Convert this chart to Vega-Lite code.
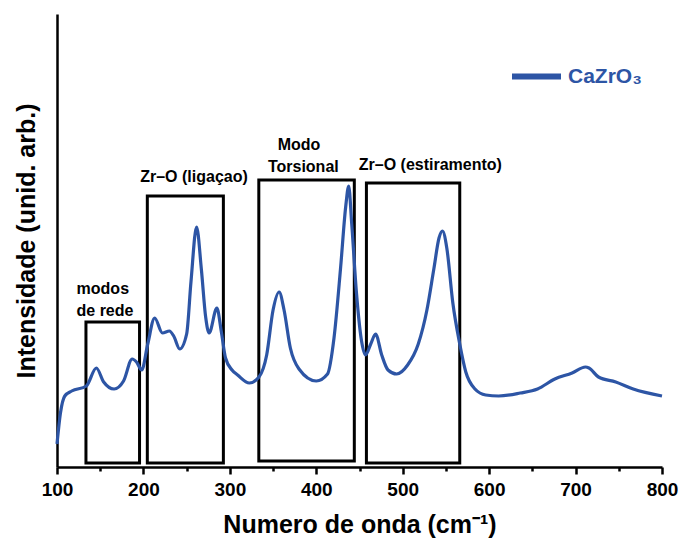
{
  "$schema": "https://vega.github.io/schema/vega-lite/v6.json",
  "width": 605,
  "height": 453,
  "autosize": {"type": "none"},
  "padding": {"left": 57, "top": 14, "right": 18, "bottom": 73},
  "config": {"view": {"stroke": null}, "font": "Liberation Sans"},
  "datasets": {
    "spectrum": [
      {"wn": 100, "I": 23, "series": "CaZrO₃"},
      {"wn": 104, "I": 54, "series": "CaZrO₃"},
      {"wn": 109, "I": 71, "series": "CaZrO₃"},
      {"wn": 117, "I": 76, "series": "CaZrO₃"},
      {"wn": 134, "I": 81, "series": "CaZrO₃"},
      {"wn": 145.5, "I": 99, "series": "CaZrO₃"},
      {"wn": 154, "I": 85, "series": "CaZrO₃"},
      {"wn": 166, "I": 78, "series": "CaZrO₃"},
      {"wn": 177, "I": 86, "series": "CaZrO₃"},
      {"wn": 187, "I": 108, "series": "CaZrO₃"},
      {"wn": 192, "I": 105, "series": "CaZrO₃"},
      {"wn": 198, "I": 97, "series": "CaZrO₃"},
      {"wn": 205, "I": 123, "series": "CaZrO₃"},
      {"wn": 213, "I": 149, "series": "CaZrO₃"},
      {"wn": 222, "I": 134, "series": "CaZrO₃"},
      {"wn": 230, "I": 136, "series": "CaZrO₃"},
      {"wn": 235, "I": 131, "series": "CaZrO₃"},
      {"wn": 242, "I": 118, "series": "CaZrO₃"},
      {"wn": 250, "I": 133, "series": "CaZrO₃"},
      {"wn": 255, "I": 185, "series": "CaZrO₃"},
      {"wn": 261.5, "I": 240, "series": "CaZrO₃"},
      {"wn": 267, "I": 198, "series": "CaZrO₃"},
      {"wn": 272, "I": 150, "series": "CaZrO₃"},
      {"wn": 276, "I": 134, "series": "CaZrO₃"},
      {"wn": 285, "I": 159, "series": "CaZrO₃"},
      {"wn": 290, "I": 136, "series": "CaZrO₃"},
      {"wn": 295, "I": 109, "series": "CaZrO₃"},
      {"wn": 302.5, "I": 97, "series": "CaZrO₃"},
      {"wn": 309, "I": 92, "series": "CaZrO₃"},
      {"wn": 322.6, "I": 84, "series": "CaZrO₃"},
      {"wn": 333.7, "I": 90, "series": "CaZrO₃"},
      {"wn": 342.6, "I": 112, "series": "CaZrO₃"},
      {"wn": 350, "I": 157, "series": "CaZrO₃"},
      {"wn": 357, "I": 175, "series": "CaZrO₃"},
      {"wn": 362.7, "I": 157, "series": "CaZrO₃"},
      {"wn": 370, "I": 119, "series": "CaZrO₃"},
      {"wn": 380, "I": 98, "series": "CaZrO₃"},
      {"wn": 400, "I": 86, "series": "CaZrO₃"},
      {"wn": 413, "I": 93, "series": "CaZrO₃"},
      {"wn": 420.5, "I": 129, "series": "CaZrO₃"},
      {"wn": 428, "I": 198, "series": "CaZrO₃"},
      {"wn": 434, "I": 260, "series": "CaZrO₃"},
      {"wn": 437.5, "I": 281, "series": "CaZrO₃"},
      {"wn": 441, "I": 243, "series": "CaZrO₃"},
      {"wn": 446.5, "I": 174, "series": "CaZrO₃"},
      {"wn": 452, "I": 128, "series": "CaZrO₃"},
      {"wn": 457, "I": 112, "series": "CaZrO₃"},
      {"wn": 463, "I": 123, "series": "CaZrO₃"},
      {"wn": 468.6, "I": 133, "series": "CaZrO₃"},
      {"wn": 475.7, "I": 112, "series": "CaZrO₃"},
      {"wn": 483, "I": 97, "series": "CaZrO₃"},
      {"wn": 493, "I": 93, "series": "CaZrO₃"},
      {"wn": 505.7, "I": 102, "series": "CaZrO₃"},
      {"wn": 518, "I": 123, "series": "CaZrO₃"},
      {"wn": 528, "I": 157, "series": "CaZrO₃"},
      {"wn": 536, "I": 198, "series": "CaZrO₃"},
      {"wn": 542, "I": 229, "series": "CaZrO₃"},
      {"wn": 546, "I": 236, "series": "CaZrO₃"},
      {"wn": 551, "I": 219, "series": "CaZrO₃"},
      {"wn": 558, "I": 164, "series": "CaZrO₃"},
      {"wn": 566, "I": 123, "series": "CaZrO₃"},
      {"wn": 573, "I": 95, "series": "CaZrO₃"},
      {"wn": 583.6, "I": 78, "series": "CaZrO₃"},
      {"wn": 596, "I": 72, "series": "CaZrO₃"},
      {"wn": 611, "I": 71, "series": "CaZrO₃"},
      {"wn": 636, "I": 74, "series": "CaZrO₃"},
      {"wn": 656, "I": 78, "series": "CaZrO₃"},
      {"wn": 676, "I": 88, "series": "CaZrO₃"},
      {"wn": 696, "I": 94, "series": "CaZrO₃"},
      {"wn": 711.5, "I": 100, "series": "CaZrO₃"},
      {"wn": 715.5, "I": 99, "series": "CaZrO₃"},
      {"wn": 726.5, "I": 90, "series": "CaZrO₃"},
      {"wn": 746.5, "I": 85, "series": "CaZrO₃"},
      {"wn": 766.7, "I": 78, "series": "CaZrO₃"},
      {"wn": 800, "I": 71, "series": "CaZrO₃"}
    ],
    "boxes": [
      {"wn": 133.5, "wn2": 195.5, "I": 4, "I2": 145},
      {"wn": 204.5, "wn2": 292.5, "I": 4, "I2": 271},
      {"wn": 333.5, "wn2": 444, "I": 6, "I2": 287},
      {"wn": 458, "wn2": 566, "I": 4, "I2": 284}
    ],
    "labels": [
      {"wn": 153, "I": 178, "label": "modos"},
      {"wn": 155.5, "I": 156, "label": "de rede"},
      {"wn": 258.5, "I": 290, "label": "Zr–O (ligaçao)"},
      {"wn": 380, "I": 322, "label": "Modo"},
      {"wn": 385, "I": 300, "label": "Torsional"},
      {"wn": 532, "I": 302, "label": "Zr–O (estiramento)"}
    ]
  },
  "encoding": {
    "x": {
      "field": "wn",
      "type": "quantitative",
      "scale": {"domain": [100, 800], "nice": false, "zero": false},
      "axis": {
        "title": "Numero de onda (cm⁻¹)",
        "values": [100, 150, 200, 250, 300, 350, 400, 450, 500, 550, 600, 650, 700, 750, 800],
        "labelExpr": "datum.value % 100 === 0 ? datum.label : ''",
        "tickSize": {"condition": {"test": "datum.value % 100 !== 0", "value": 4}, "value": 7},
        "grid": false,
        "domainColor": "black",
        "domainWidth": 2.5,
        "tickColor": "black",
        "tickWidth": 2.5,
        "labelFontSize": 19,
        "labelFontWeight": "bold",
        "labelColor": "black",
        "labelPadding": 6,
        "labelFlush": false,
        "labelOverlap": false,
        "titleFontSize": 25,
        "titleFontWeight": "bold",
        "titleColor": "black",
        "titlePadding": 13
      }
    },
    "y": {
      "field": "I",
      "type": "quantitative",
      "scale": {"domain": [0, 453], "nice": false, "zero": false},
      "axis": {
        "title": "Intensidade (unid. arb.)",
        "ticks": false,
        "labels": false,
        "grid": false,
        "domainColor": "black",
        "domainWidth": 2.5,
        "titleFontSize": 25,
        "titleFontWeight": "bold",
        "titleColor": "black",
        "titlePadding": 18
      }
    }
  },
  "layer": [
    {
      "data": {"name": "boxes"},
      "mark": {"type": "rect", "filled": false, "stroke": "black", "strokeWidth": 3},
      "encoding": {"x2": {"field": "wn2"}, "y2": {"field": "I2"}}
    },
    {
      "data": {"name": "spectrum"},
      "mark": {"type": "line", "strokeWidth": 3.2, "interpolate": "monotone"},
      "encoding": {
        "color": {
          "field": "series",
          "type": "nominal",
          "scale": {"range": ["#2d55a5"]},
          "legend": {
            "title": null,
            "orient": "none",
            "legendX": 452,
            "legendY": 35,
            "symbolType": "stroke",
            "symbolSize": 2401,
            "symbolStrokeWidth": 6,
            "labelFontSize": 21,
            "labelFontWeight": "bold",
            "labelColor": "#2d55a5",
            "labelOffset": 4,
            "padding": 0
          }
        }
      }
    },
    {
      "data": {"name": "labels"},
      "mark": {"type": "text", "fontSize": 16, "fontWeight": "bold", "color": "black", "align": "center", "baseline": "middle"},
      "encoding": {"text": {"field": "label"}}
    }
  ]
}
